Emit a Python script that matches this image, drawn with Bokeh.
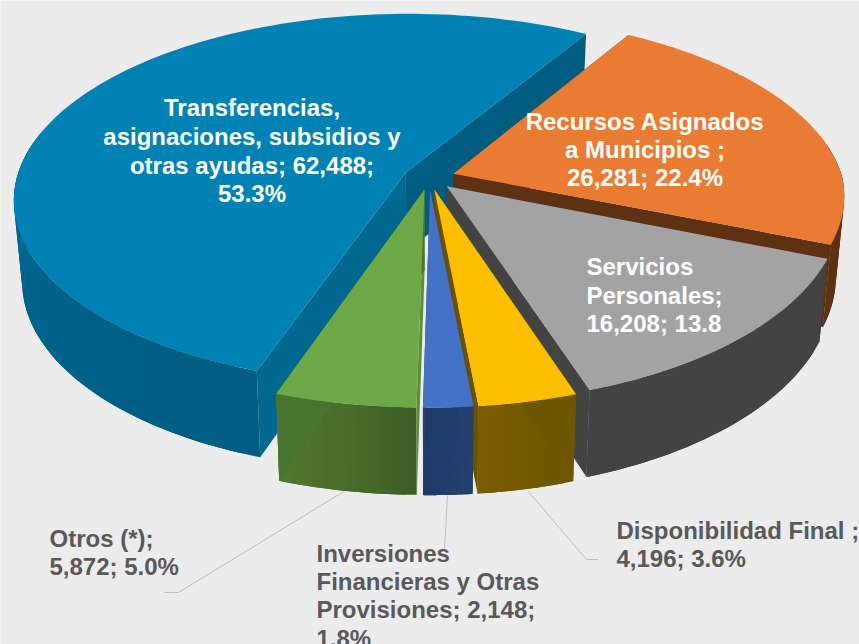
import numpy as np
from bokeh.plotting import figure, ColumnDataSource
from bokeh.embed import file_html
from bokeh.resources import INLINE
from bokeh.models import Range1d
from bokeh.core.properties import value

# ---- data, clockwise from the orange slice
categories = ["Recursos Asignados a Municipios", "Servicios Personales", "Disponibilidad Final",
              "Inversiones Financieras y Otras Provisiones", "Otros (*)",
              "Transferencias, asignaciones, subsidios y otras ayudas"]
amounts = [26281, 16208, 4196, 2148, 5872, 62488]
percents = [22.4, 13.8, 3.6, 1.8, 5.0, 53.3]

top_colors = ["#E97B32", "#A3A3A3", "#FCBF00", "#4472C4", "#6DAA47", "#0082B4"]
wall_from = ["#5F3113", "#434343", "#6E5500", "#23406E", "#3F6026", "#005C82"]
wall_to = ["#5F3113", "#434343", "#7A5C00", "#203A68", "#517830", "#007AAB"]
cut_start = ["#5F3113", "#434343", "#6E5500", "#23406E", "#5A9038", "#00688E"]
cut_end = ["#5F3113", "#434343", "#6A5000", "#23406E", "#4A7530", "#005C80"]
draw_order = [5, 0, 1, 2, 3, 4]

inside_labels = [
    (["Transferencias,", "asignaciones, subsidios y", "otras ayudas; 62,488;", "53.3%"], 251.5, [107, 136, 165, 193], "center"),
    (["Recursos Asignados", "a Municipios ;", "26,281; 22.4%"], 644.5, [120.5, 148.5, 176.5], "center"),
    (["Servicios", "Personales;", "16,208; 13.8"], 586, [265.5, 294.5, 322.5], "left"),
]
outside_labels = [
    (["Otros (*);", "5,872; 5.0%"], 49, [537.5, 565.5]),
    (["Inversiones", "Financieras y Otras", "Provisiones; 2,148;", "1.8%"], 316, [552.5, 580.5, 608.5, 637.5]),
    (["Disponibilidad Final ;", "4,196; 3.6%"], 616, [529.5, 557.5]),
]
leaders = [
    ([345, 178, 164], [490, 592, 592]),
    ([447, 444], [495, 548]),
    ([527, 586, 598], [490, 559, 559]),
]

# ---- projection of the tilted disc
BG = "#ECECEC"
GAP = "#F6F6F6"
START = 31.0
CX, CY, RX, RY, K, EXPLODE = 428.5, 177.0, 389.0, 182.8, 0.144, 0.066
SHRINK = 0.98
SKEW = 12.0


def top_xy(X, Y):
    X, Y = np.asarray(X, float), np.asarray(Y, float)
    s = 1.0 / (1.0 - K * Y)
    return CX + RX * X * s - SKEW * np.maximum(X, 0) * np.maximum(Y, 0), CY + RY * Y * s


def bottom_xy(X, Y):
    x, y = top_xy(X, Y)
    return CX + (x - CX) * SHRINK, y + 80 + 7 * np.asarray(Y, float)


def mix(c1, c2, t):
    a = [int(c1[i:i + 2], 16) for i in (1, 3, 5)]
    b = [int(c2[i:i + 2], 16) for i in (1, 3, 5)]
    return "#%02x%02x%02x" % tuple(int(round(p + (q - p) * t)) for p, q in zip(a, b))


total = sum(percents)
edges = np.radians(START + np.concatenate([[0], np.cumsum(percents)]) / total * 360.0)

xs, ys, fills = [], [], []


def add(px, py, color):
    xs.append(list(np.asarray(px, float)))
    ys.append(list(np.asarray(py, float)))
    fills.append(color)


def offset(i):
    mid = (edges[i] + edges[i + 1]) / 2
    return EXPLODE * np.sin(mid), -EXPLODE * np.cos(mid)


for i in draw_order:
    a0, a1 = edges[i], edges[i + 1]
    ox, oy = offset(i)

    def rim(a):
        return ox + np.sin(a), oy - np.cos(a)

    # pale sliver between the two narrow front slices
    if i == 3:
        gx, gy = offset(4)
        sx, sy = top_xy(ox, oy)
        rx1, ry1 = top_xy(gx + np.sin(a0), gy - np.cos(a0))
        rx2, ry2 = bottom_xy(gx + np.sin(a0), gy - np.cos(a0))
        ex, ey = bottom_xy(*rim(a0))
        t = 0.2
        add([sx + (ex - sx) * t, ex, rx2, rx1 + (sx - rx1) * (1 - t)],
            [sy + (ey - sy) * t, ey, ry2, ry1 + (sy - ry1) * (1 - t)], GAP)

    ax, ay = top_xy(ox, oy)
    bx, by = bottom_xy(ox, oy)
    # outer wall as overlapping strips carrying the shade ramp
    n = max(12, int(np.degrees(a1 - a0) / 3))
    ang = np.linspace(a0, a1, n + 1)
    for j in range(n):
        seg = np.linspace(ang[j], ang[min(j + 2, n)], 5)
        if np.cos(seg).min() < 0.15:
            X, Y = rim(seg)
            tx, ty = top_xy(X, Y)
            ux, uy = bottom_xy(X, Y)
            add(np.r_[tx, ux[::-1]], np.r_[ty, uy[::-1]], mix(wall_from[i], wall_to[i], j / max(1, n - 1)))
    # flat cut faces
    for a, c in ((a0, cut_start[i]), (a1, cut_end[i])):
        tx, ty = top_xy(*rim(a))
        ux, uy = bottom_xy(*rim(a))
        add([ax, tx, ux, bx], [ay, ty, uy, by], c)
    # top surface
    ang = np.linspace(a0, a1, 121)
    X, Y = rim(ang)
    tx, ty = top_xy(X, Y)
    add(np.r_[ax, tx], np.r_[ay, ty], top_colors[i])

p = figure(width=859, height=644, output_backend="svg", toolbar_location=None,
           x_range=Range1d(0, 859), y_range=Range1d(644, 0),
           background_fill_color=BG, border_fill_color=BG, min_border=0,
           x_axis_type=None, y_axis_type=None, outline_line_color=None)
p.grid.visible = False

for lx, ly in leaders:
    p.line(lx, ly, line_color="#BFBFBF", line_width=1)

src = ColumnDataSource(dict(xs=xs, ys=ys, c=fills))
p.patches("xs", "ys", source=src, fill_color="c", line_color=None)

for lines, x, yy, align in inside_labels:
    p.text([x] * len(lines), yy, text=lines, text_color="white", text_align=align,
           text_baseline="middle", text_font=value("Liberation Sans"),
           text_font_style="bold", text_font_size="24px")
for lines, x, yy in outside_labels:
    p.text([x] * len(lines), yy, text=lines, text_color="#595959", text_align="left",
           text_baseline="middle", text_font=value("Liberation Sans"),
           text_font_style="bold", text_font_size="24px")

open("out.html", "w").write(file_html(p, INLINE))
